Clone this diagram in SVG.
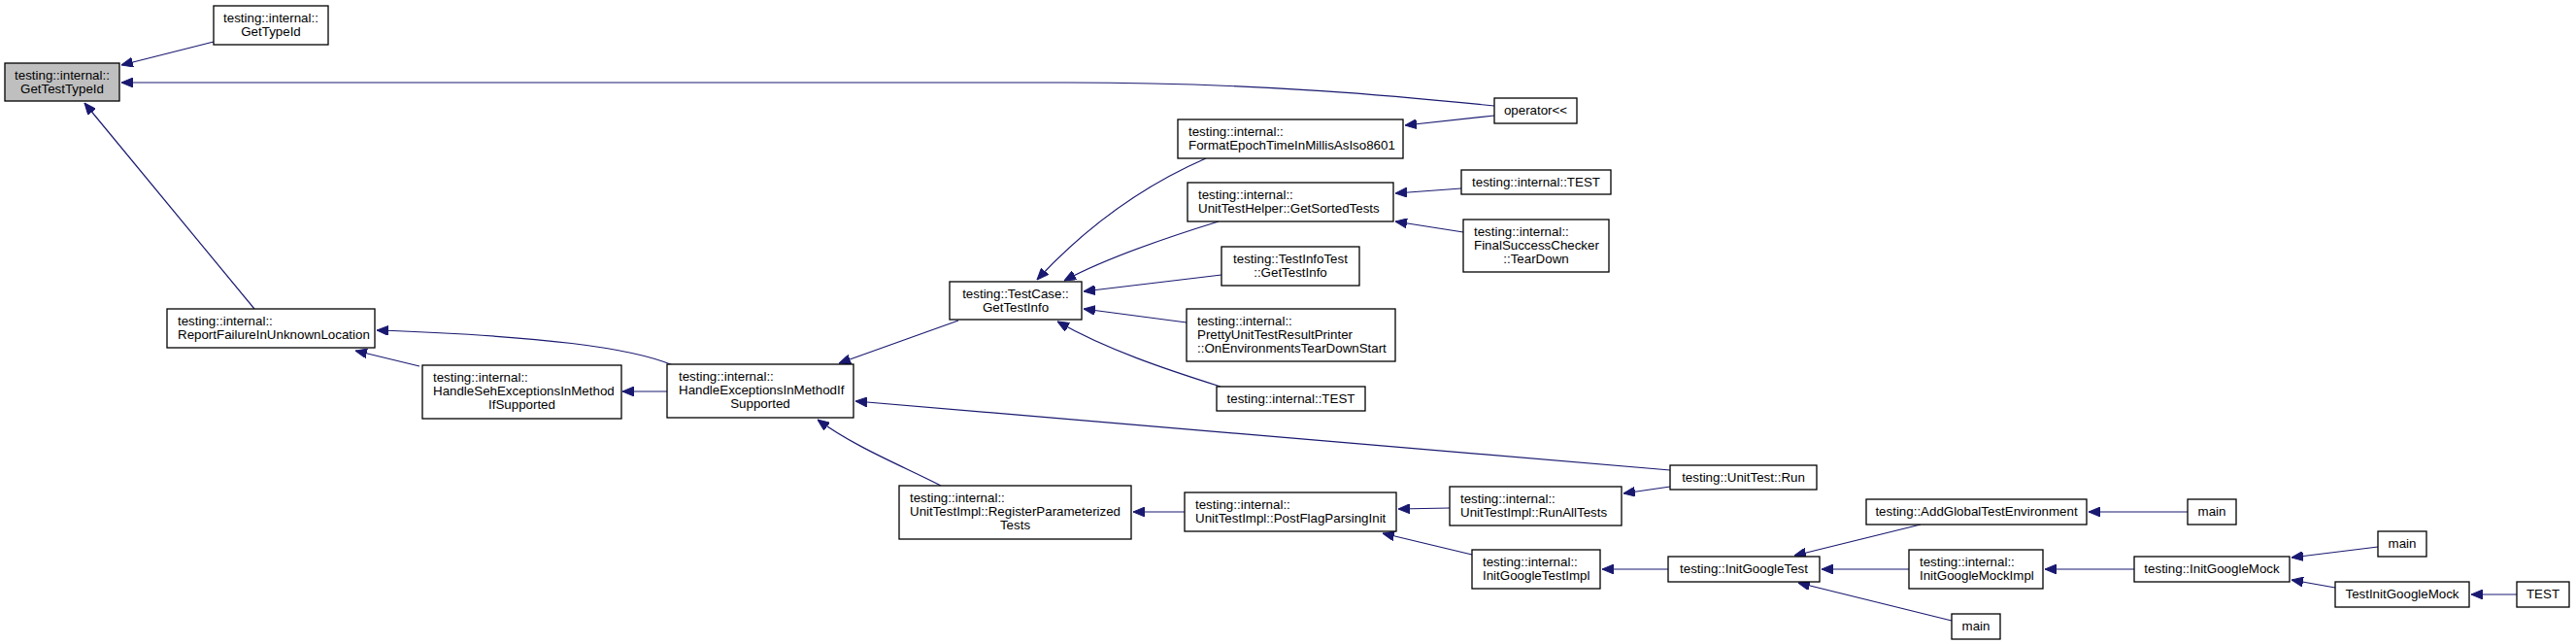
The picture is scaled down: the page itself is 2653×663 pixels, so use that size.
<svg xmlns="http://www.w3.org/2000/svg" width="2653" height="663" viewBox="0 0 2653 663">
<defs>
<style>
.n rect{fill:#ffffff;stroke:#000000;stroke-width:1.3}
.n.root rect{fill:#bfbfbf}
.n text{font-family:"Liberation Sans",Arial,sans-serif;font-size:13.33px;fill:#000000}
.c{text-anchor:middle}
#edges path{fill:none;stroke:#191970;stroke-width:1.2;marker-end:url(#ah)}
</style>
<marker id="ah" viewBox="0 0 12 10" refX="12" refY="5" markerWidth="12" markerHeight="10" markerUnits="userSpaceOnUse" orient="auto">
<path d="M0,0 L12,5 L0,10 z" fill="#191970" stroke="#191970" stroke-width="1"/>
</marker>
</defs>
<rect width="2653" height="663" fill="#ffffff"/>
<g id="edges">
<path d="M220,43 L125,67"/>
<path d="M1539,109 C1450,100 1300,85 1100,85 L125,85"/>
<path d="M262,318 L87,106"/>
<path d="M693,376 C650,358 560,346 388,340"/>
<path d="M432,377 L366,361"/>
<path d="M687,403 L641,403"/>
<path d="M987,330 L864,374"/>
<path d="M1720,484 C1500,463 1200,438 881,413"/>
<path d="M969,500 C930,480 880,460 842,432"/>
<path d="M1220,527 L1167,527"/>
<path d="M1493,523 L1440,524"/>
<path d="M1516,571 L1424,549"/>
<path d="M1720,501 L1672,508"/>
<path d="M1718,586 L1650,586"/>
<path d="M1242,163 C1180,190 1120,232 1068,288"/>
<path d="M1255,228 C1200,245 1140,265 1096,289"/>
<path d="M1505,194 L1437,199"/>
<path d="M1507,239 L1437,228"/>
<path d="M1258,283 L1116,300"/>
<path d="M1222,332 L1116,318"/>
<path d="M1257,398 C1200,380 1140,360 1089,331"/>
<path d="M1539,119 L1447,129"/>
<path d="M2253,527 L2151,527"/>
<path d="M1978,540 L1848,572"/>
<path d="M1966,586 L1876,586"/>
<path d="M2010,639 L1852,600"/>
<path d="M2198,586 L2106,586"/>
<path d="M2449,563 L2360,574"/>
<path d="M2405,605 L2360,597"/>
<path d="M2592,612 L2545,612"/>
</g>
<g id="n_GetTestTypeId" class="n root"><rect x="5" y="65" width="118" height="39"/><text class="c" x="64" y="82">testing::internal::</text><text class="c" x="64" y="96">GetTestTypeId</text></g>
<g id="n_GetTypeId" class="n"><rect x="220" y="6" width="118" height="40"/><text class="c" x="279" y="23">testing::internal::</text><text class="c" x="279" y="37">GetTypeId</text></g>
<g id="n_operator" class="n"><rect x="1539" y="101" width="85" height="26"/><text class="c" x="1581.5" y="118">operator&lt;&lt;</text></g>
<g id="n_ReportFailure" class="n"><rect x="172" y="318" width="214" height="40"/><text x="183" y="335">testing::internal::</text><text x="183" y="349">ReportFailureInUnknownLocation</text></g>
<g id="n_HandleSeh" class="n"><rect x="435" y="376" width="205" height="55"/><text x="446" y="393">testing::internal::</text><text x="446" y="407">HandleSehExceptionsInMethod</text><text class="c" x="537.5" y="421">IfSupported</text></g>
<g id="n_HandleExc" class="n"><rect x="687" y="375" width="192" height="55"/><text x="699" y="392">testing::internal::</text><text x="699" y="406">HandleExceptionsInMethodIf</text><text class="c" x="783" y="420">Supported</text></g>
<g id="n_TestCaseGetTestInfo" class="n"><rect x="978" y="290" width="136" height="39"/><text class="c" x="1046" y="307">testing::TestCase::</text><text class="c" x="1046" y="321">GetTestInfo</text></g>
<g id="n_FormatEpoch" class="n"><rect x="1213" y="123" width="232" height="40"/><text x="1224" y="140">testing::internal::</text><text x="1224" y="154">FormatEpochTimeInMillisAsIso8601</text></g>
<g id="n_GetSortedTests" class="n"><rect x="1223" y="188" width="212" height="40"/><text x="1234" y="205">testing::internal::</text><text x="1234" y="219">UnitTestHelper::GetSortedTests</text></g>
<g id="n_TEST_top" class="n"><rect x="1505" y="175" width="154" height="25"/><text class="c" x="1582" y="192">testing::internal::TEST</text></g>
<g id="n_FinalSuccessChecker" class="n"><rect x="1507" y="226" width="150" height="54"/><text x="1518" y="243">testing::internal::</text><text x="1518" y="257">FinalSuccessChecker</text><text class="c" x="1582" y="271">::TearDown</text></g>
<g id="n_TestInfoTest" class="n"><rect x="1258" y="254" width="142" height="40"/><text class="c" x="1329" y="271">testing::TestInfoTest</text><text class="c" x="1329" y="285">::GetTestInfo</text></g>
<g id="n_Pretty" class="n"><rect x="1222" y="318" width="215" height="54"/><text x="1233" y="335">testing::internal::</text><text x="1233" y="349">PrettyUnitTestResultPrinter</text><text x="1233" y="363">::OnEnvironmentsTearDownStart</text></g>
<g id="n_TEST_bottom" class="n"><rect x="1253" y="398" width="153" height="25"/><text class="c" x="1329.5" y="415">testing::internal::TEST</text></g>
<g id="n_UnitTestRun" class="n"><rect x="1720" y="479" width="151" height="25"/><text class="c" x="1795.5" y="496">testing::UnitTest::Run</text></g>
<g id="n_RegisterParameterized" class="n"><rect x="926" y="500" width="239" height="55"/><text x="937" y="517">testing::internal::</text><text x="937" y="531">UnitTestImpl::RegisterParameterized</text><text class="c" x="1045.5" y="545">Tests</text></g>
<g id="n_PostFlag" class="n"><rect x="1220" y="507" width="218" height="40"/><text x="1231" y="524">testing::internal::</text><text x="1231" y="538">UnitTestImpl::PostFlagParsingInit</text></g>
<g id="n_RunAllTests" class="n"><rect x="1493" y="501" width="177" height="40"/><text x="1504" y="518">testing::internal::</text><text x="1504" y="532">UnitTestImpl::RunAllTests</text></g>
<g id="n_InitGoogleTestImpl" class="n"><rect x="1516" y="566" width="132" height="40"/><text x="1527" y="583">testing::internal::</text><text x="1527" y="597">InitGoogleTestImpl</text></g>
<g id="n_InitGoogleTest" class="n"><rect x="1718" y="573" width="156" height="26"/><text class="c" x="1796" y="590">testing::InitGoogleTest</text></g>
<g id="n_AddGlobal" class="n"><rect x="1922" y="514" width="227" height="26"/><text class="c" x="2035.5" y="531">testing::AddGlobalTestEnvironment</text></g>
<g id="n_main1" class="n"><rect x="2253" y="514" width="50" height="26"/><text class="c" x="2278" y="531">main</text></g>
<g id="n_InitGoogleMockImpl" class="n"><rect x="1966" y="566" width="138" height="40"/><text x="1977" y="583">testing::internal::</text><text x="1977" y="597">InitGoogleMockImpl</text></g>
<g id="n_InitGoogleMock" class="n"><rect x="2198" y="573" width="160" height="26"/><text class="c" x="2278" y="590">testing::InitGoogleMock</text></g>
<g id="n_main2" class="n"><rect x="2449" y="547" width="50" height="26"/><text class="c" x="2474" y="564">main</text></g>
<g id="n_TestInitGoogleMock" class="n"><rect x="2405" y="599" width="138" height="26"/><text class="c" x="2474" y="616">TestInitGoogleMock</text></g>
<g id="n_TEST" class="n"><rect x="2592" y="599" width="54" height="26"/><text class="c" x="2619" y="616">TEST</text></g>
<g id="n_main3" class="n"><rect x="2010" y="632" width="50" height="26"/><text class="c" x="2035" y="649">main</text></g>
</svg>
